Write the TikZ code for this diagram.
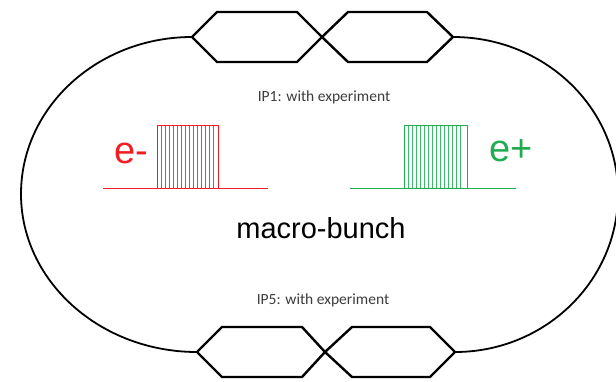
\documentclass[tikz,border=0pt]{standalone}
\usepackage{fontspec}
\setmainfont{Liberation Sans}
\newfontfamily\calib{Carlito}
\definecolor{ered}{RGB}{240,30,36}
\definecolor{eredlight}{RGB}{245,60,66}
\definecolor{pgreen}{RGB}{34,172,82}
\definecolor{pgreenlight}{RGB}{60,185,105}
\definecolor{iptext}{RGB}{60,60,60}
\begin{document}
\begin{tikzpicture}[x=1pt,y=-1pt,
  ring/.style={line width=1.8pt,black},
  hexa/.style={line width=2.4pt,black,line join=miter},
  bunchline/.style={line width=0.8pt},
  stripe/.style={line width=0.6pt},
  iplabel/.style={font=\calib\fontsize{15.5}{17}\selectfont,text=iptext,inner sep=0pt},
  pname/.style={font=\fontsize{38}{40}\selectfont,inner sep=0pt,anchor=base}]
\useasboundingbox (0,0) rectangle (616,381);
% coordinates of the hexagon vertices
\coordinate (tl) at (192,37);
\coordinate (tc) at (322,37);
\coordinate (tr) at (453,37);
\coordinate (bl) at (197,352);
\coordinate (bc) at (325,352);
\coordinate (br) at (455,352);
% ring arcs
\draw[ring] (tl) .. controls (98,37) and (21,107) .. (21,194)
                 .. controls (21,281) and (100,352) .. (bl);
\draw[ring] (tr) .. controls (544,37) and (618,107) .. (618,194)
                 .. controls (618,281) and (545,352) .. (br);
% top hexagons
\draw[hexa] (tl) -- (217,12) -- (297,12) -- (tc) -- (297,62) -- (217,62) -- cycle;
\draw[hexa] (tc) -- (348,12) -- (427,12) -- (tr) -- (427,62) -- (348,62) -- cycle;
% bottom hexagons
\draw[hexa] (bl) -- (222,327) -- (302,327) -- (bc) -- (302,377) -- (222,377) -- cycle;
\draw[hexa] (bc) -- (352,327) -- (430,327) -- (br) -- (430,377) -- (352,377) -- cycle;
% labels
\node[iplabel] (ip1) at (324,97) {IP1: with experiment};
\node[iplabel] (ip5) at (323,300) {IP5: with experiment};
\node[font=\fontsize{29}{31}\selectfont,inner sep=0pt] (mb) at (321,228) {macro-bunch};
% electron bunch
\draw[color=ered,bunchline] (103,188) -- (268,188);
\foreach \i in {161,165,...,214} {\draw[color=eredlight,stripe] (\i,125) -- (\i,188);}
\draw[color=ered,bunchline] (157,188) -- (157,125) -- (218,125) -- (218,188);
\node[pname,text=ered] (em) at (131,163) {e-};
% positron bunch
\draw[color=pgreen,bunchline] (350,188) -- (516,188);
\foreach \i in {408,412,...,463} {\draw[color=pgreenlight,stripe] (\i,125) -- (\i,188);}
\draw[color=pgreen,bunchline] (404,188) -- (404,125) -- (467,125) -- (467,188);
\node[pname,text=pgreen] (ep) at (511,161) {e+};
\end{tikzpicture}
\end{document}
